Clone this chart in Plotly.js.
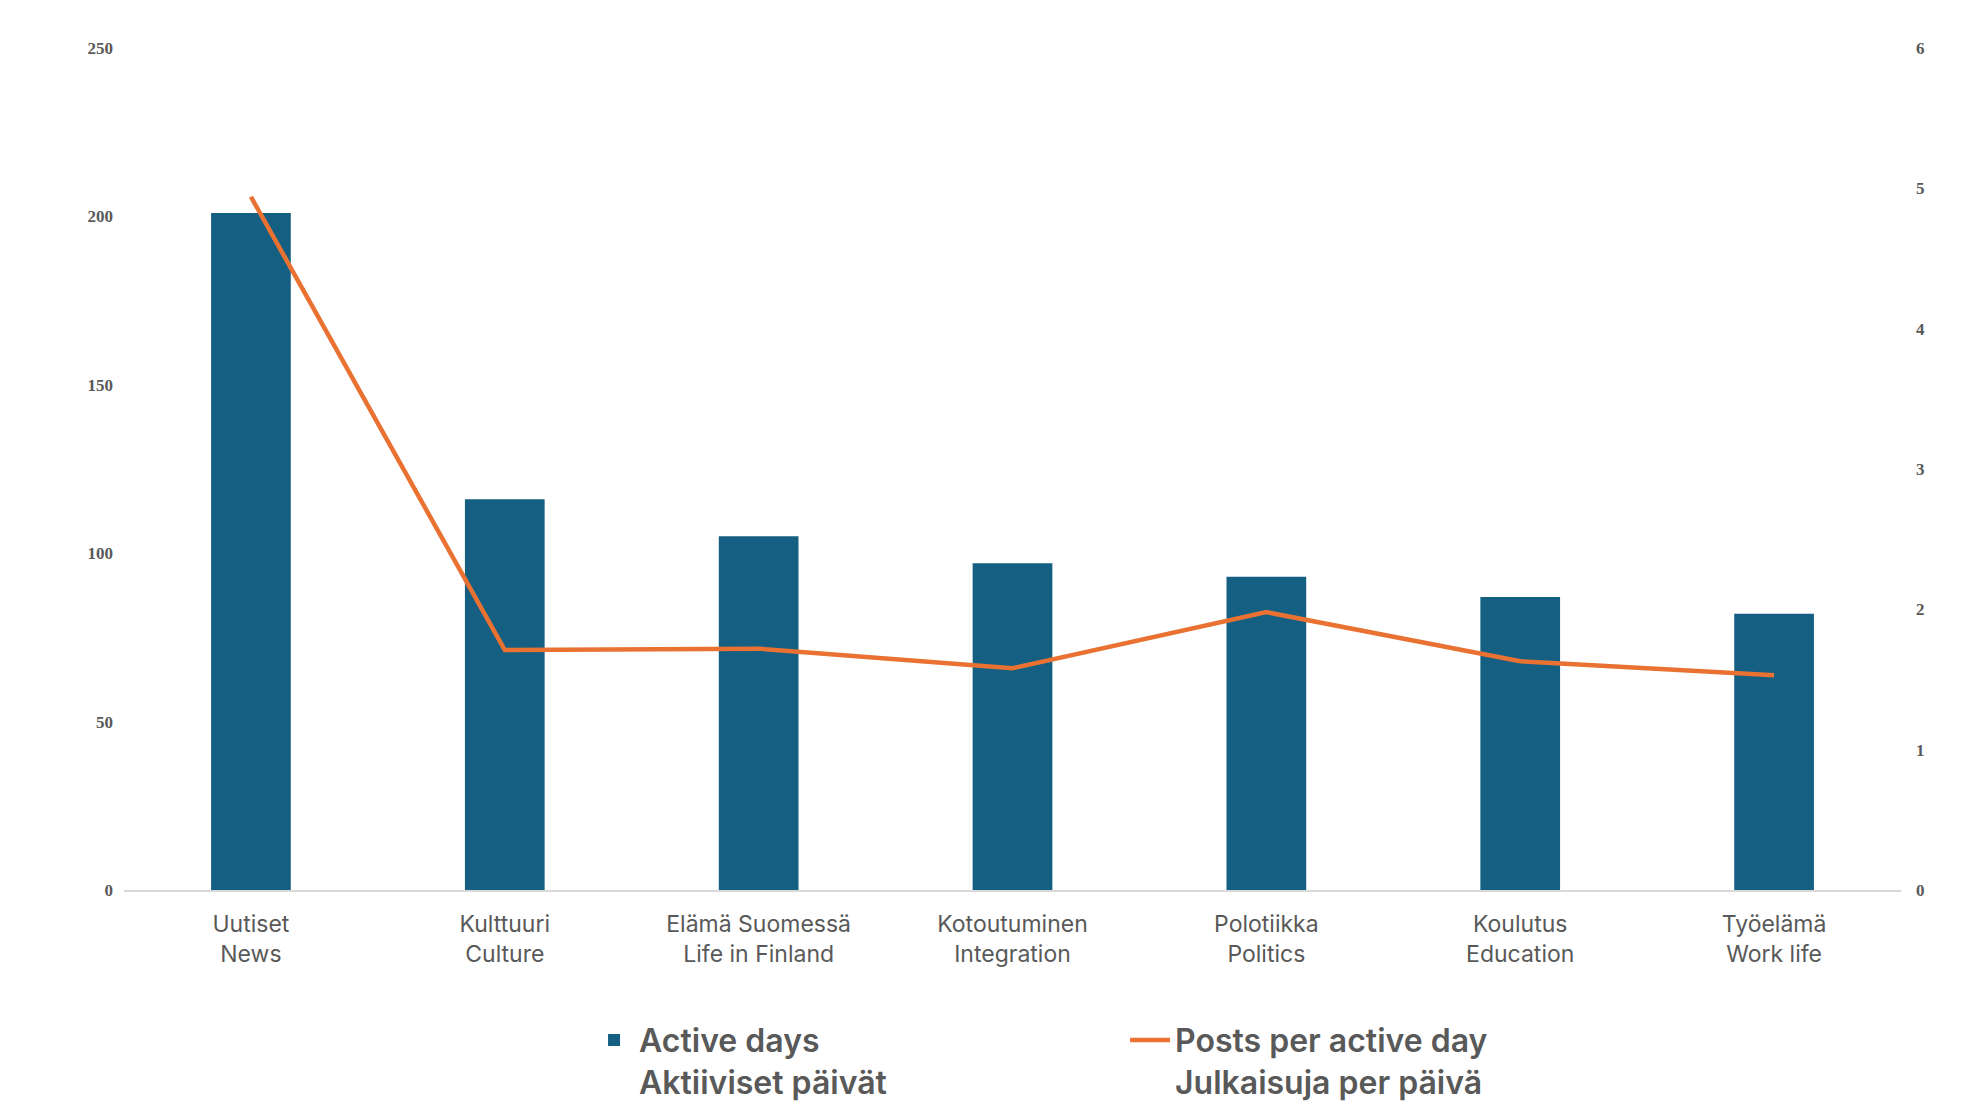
<!DOCTYPE html>
<html>
<head>
<meta charset="utf-8">
<script src="https://cdn.plot.ly/plotly-3.0.1.min.js"></script>
<style>html,body{margin:0;padding:0;background:#fff;}#chart{width:1980px;height:1114px;}</style>
</head>
<body>
<div id="chart"></div>
<script>
const categories = [
  "Uutiset<br>News",
  "Kulttuuri<br>Culture",
  "Elämä Suomessä<br>Life in Finland",
  "Kotoutuminen<br>Integration",
  "Polotiikka<br>Politics",
  "Koulutus<br>Education",
  "Työelämä<br>Work life"
];
const activeDays = [201, 116, 105, 97, 93, 87, 82];
const postsPerDay = [4.94, 1.71, 1.72, 1.58, 1.98, 1.63, 1.53];
const leftTicks = [0, 50, 100, 150, 200, 250];
const rightTicks = [0, 1, 2, 3, 4, 5, 6];

const gray = "#595959";
const tickFont = {family: "Liberation Serif", size: 17, color: gray, weight: 700};

const traces = [
  {
    type: "bar",
    x: categories,
    y: activeDays,
    name: "Active days<br>Aktiiviset päivät",
    marker: {color: "#156082"},
    yaxis: "y",
    hoverinfo: "skip"
  },
  {
    type: "scatter",
    mode: "lines",
    x: categories,
    y: postsPerDay,
    name: "Posts per active day<br>Julkaisuja per päivä",
    line: {color: "#E97132", width: 4.5},
    yaxis: "y2",
    hoverinfo: "skip"
  }
];

const layout = {
  width: 1980,
  height: 1114,
  paper_bgcolor: "#ffffff",
  plot_bgcolor: "#ffffff",
  margin: {l: 124, r: 79, t: 48, b: 224},
  bargap: 0.686,
  showlegend: true,
  font: {family: "Inter", color: gray},
  xaxis: {
    type: "category",
    showgrid: false,
    zeroline: false,
    showline: true,
    linecolor: "#D9D9D9",
    linewidth: 2,
    ticks: "",
    tickfont: {family: "Inter", size: 23, color: gray},
    ticklabelstandoff: 12
  },
  yaxis: {
    range: [0, 250],
    tickvals: leftTicks,
    showgrid: false,
    zeroline: false,
    showline: false,
    ticks: "",
    tickfont: tickFont,
    ticklabelstandoff: 10
  },
  yaxis2: {
    range: [0, 6],
    tickvals: rightTicks,
    overlaying: "y",
    side: "right",
    showgrid: false,
    zeroline: false,
    showline: false,
    ticks: "",
    tickfont: tickFont,
    ticklabelstandoff: 14
  },
  legend: {
    orientation: "h",
    xref: "container",
    yref: "container",
    x: 0.2975,
    xanchor: "left",
    y: 0.091,
    yanchor: "top",
    valign: "top",
    font: {family: "Inter", size: 32, color: gray, weight: 600},
    itemwidth: 40,
    entrywidth: 481,
    entrywidthmode: "pixels",
    traceorder: "normal"
  }
};

Plotly.newPlot("chart", traces, layout, {displayModeBar: false, staticPlot: true});
</script>
</body>
</html>
